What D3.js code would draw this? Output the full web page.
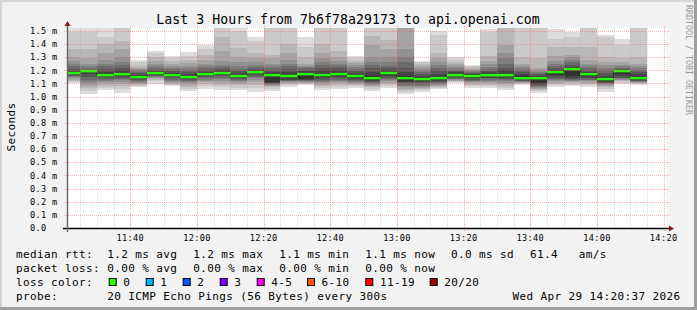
<!DOCTYPE html>
<html><head><meta charset="utf-8">
<script src="https://cdn.jsdelivr.net/npm/d3@7"></script>
<style>
html,body{margin:0;padding:0;background:#f2f2f2;}
svg{display:block;}
text{font-family:"DejaVu Sans Mono",monospace;fill:#000;}
</style>
</head><body>
<svg id="chart" width="697" height="310"></svg>
<script>
// ---------------- data ----------------
const titleText = "Last 3 Hours from 7b6f78a29173 to api.openai.com";
const yAxisTitle = "Seconds";
const sideText = "RRDTOOL / TOBI OETIKER";
const windowStart = "11:21";
const windowEnd = "14:21";
const stepMinutes = 5;
const barTimes = ["11:20","11:25","11:30","11:35","11:40","11:45","11:50","11:55",
  "12:00","12:05","12:10","12:15","12:20","12:25","12:30","12:35","12:40","12:45","12:50","12:55",
  "13:00","13:05","13:10","13:15","13:20","13:25","13:30","13:35","13:40","13:45","13:50","13:55",
  "14:00","14:05","14:10"];
const medians = [1.179,1.194,1.163,1.171,1.148,1.179,1.163,1.148,1.171,1.179,1.156,1.186,1.163,1.156,
  1.171,1.163,1.171,1.156,1.140,1.179,1.140,1.133,1.140,1.163,1.156,1.163,1.163,1.140,1.140,1.186,
  1.209,1.171,1.133,1.194,1.140];
// 20 sorted ping RTTs (ms) per 5-minute step
const pings = [
 [1.105,1.11,1.12,1.13,1.14,1.15,1.155,1.16,1.165,1.172,1.185,1.195,1.21,1.23,1.25,1.27,1.30,1.36,1.49,1.56],
 [1.023,1.045,1.065,1.08,1.095,1.11,1.13,1.15,1.17,1.19,1.196,1.2,1.205,1.215,1.23,1.25,1.29,1.36,1.49,1.56],
 [1.049,1.065,1.08,1.095,1.11,1.12,1.13,1.14,1.15,1.158,1.17,1.19,1.21,1.23,1.25,1.28,1.33,1.40,1.45,1.54],
 [1.031,1.055,1.08,1.095,1.11,1.125,1.135,1.145,1.155,1.165,1.18,1.2,1.22,1.24,1.26,1.30,1.36,1.42,1.52,1.535],
 [1.074,1.082,1.09,1.097,1.105,1.113,1.12,1.128,1.135,1.142,1.152,1.165,1.18,1.19,1.2,1.21,1.22,1.235,1.26,1.28],
 [1.095,1.115,1.13,1.14,1.145,1.15,1.155,1.16,1.165,1.172,1.183,1.195,1.205,1.22,1.235,1.25,1.27,1.3,1.33,1.346],
 [1.077,1.085,1.095,1.104,1.112,1.12,1.13,1.14,1.15,1.158,1.168,1.18,1.195,1.21,1.22,1.235,1.25,1.27,1.29,1.306],
 [1.04,1.06,1.075,1.09,1.1,1.11,1.12,1.128,1.135,1.142,1.155,1.175,1.19,1.205,1.22,1.235,1.255,1.28,1.31,1.337],
 [1.058,1.08,1.095,1.11,1.12,1.13,1.14,1.15,1.158,1.165,1.176,1.19,1.2,1.215,1.23,1.25,1.28,1.32,1.36,1.395],
 [1.05,1.07,1.09,1.105,1.12,1.135,1.145,1.155,1.165,1.172,1.185,1.2,1.21,1.225,1.24,1.27,1.35,1.45,1.53,1.56],
 [1.05,1.068,1.085,1.097,1.108,1.118,1.127,1.135,1.143,1.15,1.162,1.18,1.195,1.21,1.23,1.26,1.3,1.37,1.5,1.56],
 [1.033,1.065,1.09,1.11,1.125,1.14,1.15,1.16,1.17,1.18,1.19,1.2,1.21,1.225,1.24,1.26,1.29,1.33,1.42,1.456],
 [1.044,1.06,1.07,1.08,1.085,1.09,1.095,1.1,1.105,1.11,1.17,1.185,1.2,1.215,1.23,1.25,1.29,1.32,1.54,1.56],
 [1.074,1.085,1.095,1.1,1.11,1.115,1.12,1.125,1.13,1.14,1.165,1.19,1.21,1.23,1.25,1.28,1.33,1.40,1.52,1.56],
 [1.087,1.095,1.1,1.105,1.11,1.115,1.12,1.125,1.13,1.135,1.18,1.195,1.205,1.215,1.225,1.235,1.25,1.30,1.38,1.451],
 [1.049,1.065,1.08,1.09,1.1,1.11,1.12,1.13,1.14,1.15,1.175,1.2,1.22,1.24,1.26,1.29,1.33,1.40,1.52,1.56],
 [1.056,1.07,1.085,1.1,1.11,1.12,1.13,1.14,1.15,1.16,1.18,1.2,1.215,1.23,1.25,1.27,1.3,1.35,1.53,1.54],
 [1.069,1.08,1.09,1.098,1.105,1.113,1.12,1.128,1.135,1.145,1.165,1.18,1.195,1.21,1.225,1.24,1.255,1.27,1.29,1.311],
 [1.044,1.058,1.07,1.082,1.09,1.096,1.103,1.11,1.12,1.13,1.155,1.19,1.22,1.24,1.26,1.3,1.39,1.46,1.53,1.56],
 [1.069,1.082,1.095,1.105,1.115,1.125,1.135,1.145,1.155,1.165,1.185,1.2,1.215,1.235,1.26,1.3,1.36,1.43,1.53,1.535],
 [1.018,1.035,1.05,1.06,1.07,1.08,1.09,1.1,1.11,1.12,1.155,1.19,1.22,1.26,1.3,1.36,1.52,1.525,1.53,1.535],
 [1.036,1.048,1.058,1.065,1.07,1.08,1.09,1.1,1.11,1.12,1.14,1.155,1.17,1.185,1.2,1.215,1.23,1.245,1.26,1.273],
 [1.056,1.065,1.072,1.08,1.088,1.096,1.104,1.112,1.12,1.13,1.15,1.175,1.2,1.22,1.24,1.26,1.29,1.33,1.47,1.5],
 [1.107,1.112,1.117,1.122,1.127,1.132,1.137,1.142,1.148,1.155,1.17,1.185,1.195,1.205,1.22,1.235,1.25,1.265,1.285,1.303],
 [1.069,1.082,1.092,1.1,1.108,1.115,1.122,1.13,1.138,1.145,1.162,1.17,1.178,1.187,1.195,1.203,1.212,1.222,1.232,1.242],
 [1.064,1.078,1.09,1.1,1.11,1.12,1.13,1.138,1.145,1.155,1.17,1.185,1.195,1.21,1.225,1.245,1.27,1.31,1.49,1.515],
 [1.049,1.065,1.08,1.095,1.105,1.115,1.125,1.135,1.145,1.155,1.175,1.2,1.22,1.25,1.29,1.33,1.39,1.54,1.55,1.56],
 [1.09,1.095,1.1,1.105,1.11,1.114,1.118,1.122,1.128,1.135,1.155,1.175,1.19,1.2,1.215,1.23,1.25,1.3,1.54,1.56],
 [1.031,1.042,1.052,1.06,1.068,1.075,1.08,1.087,1.093,1.1,1.15,1.16,1.17,1.18,1.19,1.205,1.22,1.29,1.535,1.56],
 [1.074,1.085,1.095,1.105,1.115,1.125,1.135,1.145,1.155,1.165,1.19,1.2,1.215,1.23,1.25,1.27,1.31,1.38,1.44,1.515],
 [1.082,1.09,1.1,1.108,1.115,1.122,1.13,1.137,1.145,1.155,1.213,1.225,1.24,1.26,1.28,1.3,1.32,1.38,1.45,1.49],
 [1.074,1.087,1.098,1.107,1.115,1.123,1.13,1.138,1.145,1.155,1.178,1.19,1.205,1.22,1.235,1.25,1.28,1.38,1.55,1.56],
 [1.036,1.055,1.07,1.08,1.088,1.095,1.1,1.105,1.112,1.12,1.142,1.16,1.18,1.2,1.215,1.24,1.26,1.3,1.45,1.47],
 [1.095,1.105,1.115,1.125,1.13,1.135,1.14,1.145,1.155,1.17,1.198,1.205,1.21,1.22,1.23,1.24,1.26,1.29,1.39,1.438],
 [1.087,1.095,1.1,1.104,1.108,1.112,1.116,1.12,1.125,1.13,1.15,1.175,1.19,1.205,1.22,1.235,1.25,1.3,1.535,1.56]
];
const yTickValues = [0,0.1,0.2,0.3,0.4,0.5,0.6,0.7,0.8,0.9,1.0,1.1,1.2,1.3,1.4,1.5];
const yTickLabels = ["0.0","0.1 m","0.2 m","0.3 m","0.4 m","0.5 m","0.6 m","0.7 m","0.8 m","0.9 m",
  "1.0 m","1.1 m","1.2 m","1.3 m","1.4 m","1.5 m"];
const xTickLabels = ["11:40","12:00","12:20","12:40","13:00","13:20","13:40","14:00","14:20"];
const rttLabel = "median rtt:";
const rttItems = ["1.2 ms avg","1.2 ms max","1.1 ms min","1.1 ms now","0.0 ms sd","61.4","am/s"];
const lossLabel = "packet loss:";
const lossItems = ["0.00 % avg","0.00 % max","0.00 % min","0.00 % now"];
const colorLabel = "loss color:";
const lossBins = ["0","1","2","3","4-5","6-10","11-19","20/20"];
const lossColors = ["#26ff00","#00b8ff","#0059ff","#7e00ff","#ff00ff","#ff5500","#ff0000","#a10000"];
const probeLabel = "probe:";
const probeText = "20 ICMP Echo Pings (56 Bytes) every 300s";
const stampText = "Wed Apr 29 14:20:37 2026";
const medianColor = "#22ff00";

// ---------------- layout ----------------
const W = 697, H = 310;
const L = 67, R = 667, T = 28, B = 228;
const toDate = s => { const [h,m] = s.split(":").map(Number); return new Date(Date.UTC(2026,3,29,h,m)); };
const x = d3.scaleUtc().domain([toDate(windowStart), toDate(windowEnd)]).range([L, R]);
const y = d3.scaleLinear().domain([0, 1.522]).range([B, T]);
const stepMs = stepMinutes * 60000;

const svg = d3.select("#chart");
svg.append("rect").attr("width", W).attr("height", H).attr("fill", "#f2f2f2");
// frame shading
svg.append("rect").attr("x",0).attr("y",0).attr("width",W).attr("height",2).attr("fill","#d4d4d4");
svg.append("rect").attr("x",0).attr("y",0).attr("width",2).attr("height",H).attr("fill","#d4d4d4");
svg.append("rect").attr("x",0).attr("y",H-3).attr("width",W).attr("height",3).attr("fill","#9e9e9e");
svg.append("rect").attr("x",W-3).attr("y",0).attr("width",3).attr("height",H).attr("fill","#9e9e9e");

// canvas
svg.append("rect").attr("x", L).attr("y", T).attr("width", R-L).attr("height", B-T).attr("fill", "#fff");
svg.append("clipPath").attr("id","plotclip").append("rect")
  .attr("x", L).attr("y", T).attr("width", R-L).attr("height", B-T);
const plot = svg.append("g").attr("clip-path","url(#plotclip)");

// smoke layers
const half = 10;
barTimes.forEach((t, i) => {
  const t0 = toDate(t), t1 = new Date(+t0 + stepMs);
  const x0 = x(t0), x1 = x(t1);
  const p = pings[i];
  for (let ibot = 1; ibot <= half; ibot++) {
    const itop = 21 - ibot;
    const c = Math.floor(190 / half * (half - ibot)) + 50;
    const lo = p[ibot-1], hi = p[itop-1];
    plot.append("rect")
      .attr("x", x0).attr("width", x1 - x0)
      .attr("y", y(hi)).attr("height", y(lo) - y(hi))
      .attr("fill", d3.rgb(c,c,c).formatHex())
      .attr("shape-rendering","crispEdges");
  }
});
// median connector line
const medPts = [];
barTimes.forEach((t,i) => { const t0 = toDate(t); medPts.push([x(t0), y(medians[i])]); medPts.push([x(new Date(+t0+stepMs)), y(medians[i])]); });
plot.append("path").attr("d", d3.line()(medPts)).attr("fill","none").attr("stroke","#202020").attr("stroke-width",1);
// median bands
barTimes.forEach((t,i) => {
  const t0 = toDate(t), t1 = new Date(+t0 + stepMs);
  plot.append("rect").attr("x", x(t0)).attr("width", x(t1)-x(t0))
    .attr("y", y(medians[i]) - 1.2).attr("height", 2.4).attr("fill", medianColor);
});

// grid (drawn over data)
const grid = svg.append("g");
const minorTimes = d3.utcMinute.every(5).range(new Date(+toDate(windowStart)+1), toDate(windowEnd));
minorTimes.forEach(d => {
  const major = d.getUTCMinutes() % 20 === 0;
  const px = Math.round(x(d)) + 0.5;
  grid.append("line").attr("x1", px).attr("x2", px)
    .attr("y1", major ? T - 2 : T).attr("y2", major ? B + 3 : B)
    .attr("stroke", major ? "rgba(255,95,95,0.5)" : "rgba(170,170,170,0.45)")
    .attr("stroke-dasharray", "1,1");
});
yTickValues.forEach(v => {
  if (v === 0) return;
  const py = Math.round(y(v)) + 0.5;
  grid.append("line").attr("x1", L - 3).attr("x2", R + 2).attr("y1", py).attr("y2", py)
    .attr("stroke", "rgba(255,95,95,0.5)").attr("stroke-dasharray", "1,1");
});

// axes
svg.append("line").attr("x1", L - 4).attr("x2", R + 4).attr("y1", B + 0.5).attr("y2", B + 0.5)
  .attr("stroke", "#000").attr("stroke-width", 1.6);
svg.append("line").attr("x1", L + 0.5).attr("x2", L + 0.5).attr("y1", B + 4).attr("y2", T - 4)
  .attr("stroke", "#666").attr("stroke-width", 1.4);
svg.append("path").attr("d", `M${L-2.5},${T-2}L${L+3.5},${T-2}L${L+0.5},${T-7}Z`).attr("fill", "#8b1a1a");
svg.append("path").attr("d", `M${R+2},${B-2.5}L${R+2},${B+3.5}L${R+7},${B+0.5}Z`).attr("fill", "#8b1a1a");

// y tick labels
const yl = svg.append("g");
yTickValues.forEach((v,i) => {
  yl.append("text").attr("x", 30).attr("y", y(v) + 3.2)
    .style("font-size","8.6px").style("letter-spacing","0.35px").text(yTickLabels[i]);
});
// x tick labels
const xl = svg.append("g");
xTickLabels.forEach(s => {
  xl.append("text").attr("x", x(toDate(s))).attr("y", 240.5).attr("text-anchor","middle")
    .style("font-size","8.6px").style("letter-spacing","0.35px").text(s);
});

// title
svg.append("text").attr("x", 348).attr("y", 24).attr("text-anchor","middle")
  .style("font-size","13.2px").style("letter-spacing","0.05px").text(titleText);
// y axis title
svg.append("text").attr("transform","translate(14.5,127) rotate(-90)").attr("text-anchor","middle")
  .style("font-size","11px").style("letter-spacing","0.38px").text(yAxisTitle);
// side text
svg.append("text").attr("transform","translate(685.5,5) rotate(90)")
  .style("font-size","8.3px").style("fill","#999").text(sideText);

// legend
const lg = svg.append("g").style("font-size","11px").style("letter-spacing","0.38px");
const rowY = [257.8, 271.8, 285.8, 299.8];
const col = [107.3, 193.3, 279.3, 365.3, 451, 530, 578.7];
lg.append("text").attr("x",16).attr("y",rowY[0]).text(rttLabel);
rttItems.forEach((s,i) => lg.append("text").attr("x",col[i]).attr("y",rowY[0]).text(s));
lg.append("text").attr("x",16).attr("y",rowY[1]).text(lossLabel);
lossItems.forEach((s,i) => lg.append("text").attr("x",col[i]).attr("y",rowY[1]).text(s));
lg.append("text").attr("x",16).attr("y",rowY[2]).text(colorLabel);
const boxX = [108.7,145.7,182.7,219.7,256.7,307,365.3,429.7];
lossBins.forEach((s,i) => {
  lg.append("rect").attr("x", boxX[i] + 0.5).attr("y", 278.5).attr("width", 7).attr("height", 7)
    .attr("fill", lossColors[i]).attr("stroke", "#000").attr("stroke-width", 1);
  lg.append("text").attr("x", boxX[i] + 14.6).attr("y", rowY[2]).text(s);
});
lg.append("text").attr("x",16).attr("y",rowY[3]).text(probeLabel);
lg.append("text").attr("x",col[0]).attr("y",rowY[3]).text(probeText);
lg.append("text").attr("x",680.5).attr("y",rowY[3]).attr("text-anchor","end").text(stampText);
</script>
</body></html>
